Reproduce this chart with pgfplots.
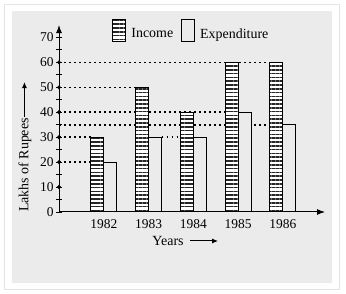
\documentclass[border=0pt]{standalone}
\usepackage{pgfplots}
\pgfplotsset{compat=1.18}
\usepackage{fontspec}
\setmainfont{Liberation Serif}
\usetikzlibrary{patterns.meta,arrows.meta}
\definecolor{panel}{RGB}{235,235,235}
\definecolor{frame}{RGB}{228,228,228}
\pgfplotsset{tallbox/.style={legend image code/.code={\draw[##1] (0bp,-7bp) rectangle (13bp,15bp);}},
  guide/.style={sharp plot, black, line width=1.6bp, dash pattern=on 1.8bp off 3.2bp, forget plot}}
\pgfplotstableread{
x income expenditure
0 30 20
1 50 30
2 40 30
3 60 40
4 60 35
}\datatable
\begin{document}
\begin{tikzpicture}[x=1bp,y=1bp]
\path[use as bounding box] (0,0) rectangle (346,294);
\fill[white] (0,0) rectangle (346,294);
\draw[frame,line width=1.2bp] (4.5,4.5) rectangle (339.5,289.5);
\fill[panel] (12,11) rectangle (332,283);
\begin{axis}[
  at={(59bp,82bp)}, anchor=south west,
  scale only axis, width=266bp, height=187bp,
  xmin=-1, xmax=4.94, ymin=0, ymax=75,
  axis lines=left,
  axis line style={line width=1bp,-{Latex[length=8bp,width=6bp]}},
  clip=false,
  ybar=0pt, bar width=13bp,
  xtick={0,1,2,3,4},
  xticklabels={1982,1983,1984,1985,1986},
  ytick={0,10,...,70},
  minor y tick num=1,
  tick align=center,
  major tick length=6bp, minor tick length=6bp,
  every tick/.style={black,line width=0.9bp},
  major x tick style={draw=none},
  tick label style={font=\fontsize{13.5}{13.5}\selectfont},
  /pgf/number format/assume math mode=true,
  yticklabel style={xshift=1bp},
  xticklabel style={yshift=-1bp},
  xlabel={Years}, ylabel={Lakhs of Rupees},
  label style={font=\fontsize{14}{14}\selectfont},
  xlabel style={at={(rel axis cs:0.41,-0.155)}, anchor=center},
  ylabel style={at={(rel axis cs:-0.128,0.251)}, anchor=center},
  legend style={draw=none, fill=none, inner sep=0pt, at={(rel axis cs:0.2,1.035)}, anchor=north west,
    font=\fontsize{14}{14}\selectfont, legend columns=2,
    /tikz/every odd column/.append style={column sep=3bp},
    /tikz/every even column/.append style={column sep=6bp}},
]
% dotted guide lines
\addplot[guide] coordinates {(-1,20) (-0.29,20)};
\addplot[guide] coordinates {(-1,30) (-0.29,30)};
\addplot[guide] coordinates {(1.29,30) (1.71,30)};
\addplot[guide] coordinates {(-1,35) (3.71,35)};
\addplot[guide] coordinates {(-1,40) (2.71,40)};
\addplot[guide] coordinates {(-1,50) (0.71,50)};
\addplot[guide] coordinates {(-1,60) (3.71,60)};
% bars
\addplot[ybar, draw=black, line width=1bp, fill=white,
  postaction={pattern={Lines[angle=0,distance=3.8bp,line width=1.5bp]}, pattern color=black!85},
  tallbox]
  table[x=x,y=income]{\datatable};
\addlegendentry{Income}
\addplot[ybar, draw=black, line width=1bp, fill=panel, tallbox]
  table[x=x,y=expenditure]{\datatable};
\addlegendentry{Expenditure}
% dots on y axis
\addplot[only marks, mark=*, mark size=1.8bp, black, forget plot] coordinates {(-1,10) (-1,20) (-1,30) (-1,40) (-1,50) (-1,60)};
% label arrows
\draw[line width=1bp,-{Latex[length=6bp,width=5bp]}] (rel axis cs:0.4925,-0.155) -- (rel axis cs:0.598,-0.155);
\draw[line width=1bp,-{Latex[length=6bp,width=5bp]}] (rel axis cs:-0.13,0.508) -- (rel axis cs:-0.13,0.695);
\end{axis}
\end{tikzpicture}
\end{document}
